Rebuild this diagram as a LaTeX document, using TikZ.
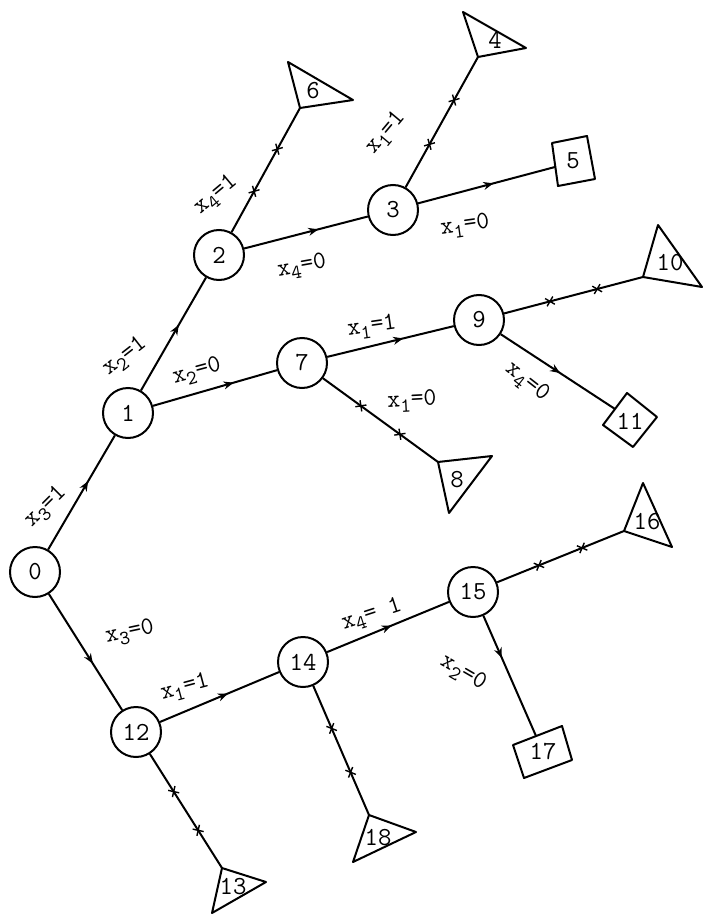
\documentclass[tikz,border=0pt]{standalone}
\usepackage{tikz}
\usetikzlibrary{arrows.meta, decorations.markings}

\newcommand{\xset}[2]{x\raisebox{-0.55ex}{\fontsize{10}{10}\selectfont#1}=#2}

\begin{document}
\begin{tikzpicture}[
    x=0.5pt, y=-0.5pt,
    every node/.style={font=\ttfamily\fontsize{13}{15}\selectfont},
    state/.style={circle, draw=black, fill=white, minimum size=25pt, inner sep=0pt, line width=1pt},
    leaf/.style={draw=black, line width=1pt, line join=round},
    lbl/.style={font=\ttfamily\fontsize{12.5}{14}\selectfont, inner sep=0.5pt},
    link/.style={line width=1pt, color=black},
    arrmid/.style={link, postaction={decorate}, decoration={markings,
        mark=at position #1 with {\arrow{Stealth[length=5pt, width=4pt]}}}},
    arrmid/.default=0.6,
    fathom/.style={link, postaction={decorate}, decoration={markings,
        mark=at position 0.33 with {\draw[line width=0.7pt] (-2pt,-2pt) -- (2pt,2pt) (-2pt,2pt) -- (2pt,-2pt);},
        mark=at position 0.67 with {\draw[line width=0.7pt] (-2pt,-2pt) -- (2pt,2pt) (-2pt,2pt) -- (2pt,-2pt);}}},
]
\useasboundingbox (0,0) rectangle (703,915);

% branching nodes
\node[state] (n0) at (35,572) {0};
\node[state] (n1) at (128,413) {1};
\node[state] (n2) at (219,255) {2};
\node[state] (n3) at (393,210) {3};
\node[state] (n7) at (302,363) {7};
\node[state] (n9) at (479,320) {9};
\node[state] (n12) at (136,732) {12};
\node[state] (n14) at (303,662) {14};
\node[state] (n15) at (473,592) {15};

% fathomed ends (triangles)
\coordinate (a4) at (478,57);
\draw[leaf] (a4) -- (463,12) -- (526,48) -- cycle;
\node (n4) at (495,40) {4};
\coordinate (a6) at (300,108);
\draw[leaf] (a6) -- (288,62) -- (353,100) -- cycle;
\node (n6) at (313,91) {6};
\coordinate (a8) at (438,462);
\draw[leaf] (a8) -- (492,456) -- (449,513) -- cycle;
\node (n8) at (457,480) {8};
\coordinate (a10) at (643,277);
\draw[leaf] (a10) -- (658,225) -- (702,287) -- cycle;
\node (n10) at (670,263) {10};
\coordinate (a13) at (222,868);
\draw[leaf] (a13) -- (266,882) -- (212,913) -- cycle;
\node (n13) at (233,887) {13};
\coordinate (a16) at (624,531);
\draw[leaf] (a16) -- (643,483) -- (672,547) -- cycle;
\node (n16) at (647,522) {16};
\coordinate (a18) at (369,815);
\draw[leaf] (a18) -- (416,832) -- (353,862) -- cycle;
\node (n18) at (378,838) {18};

% feasible ends (boxes)
\coordinate (a5) at (555,167);
\draw[leaf] (552,143) -- (587,136) -- (595,179) -- (558,186) -- cycle;
\node (n5) at (573,161) {5};
\coordinate (a11) at (615,409);
\draw[leaf] (627,393) -- (657,417) -- (633,447) -- (603,425) -- cycle;
\node (n11) at (630,421) {11};
\coordinate (a17) at (536,736);
\draw[leaf] (513,745) -- (562,726) -- (572,760) -- (524,778) -- cycle;
\node (n17) at (543,752) {17};

% branches
\draw[arrmid] (n0) -- (n1);
\draw[arrmid] (n0) -- (n12);
\draw[arrmid=0.58] (n1) -- (n2);
\draw[arrmid=0.65] (n1) -- (n7);
\draw[arrmid] (n2) -- (n3);
\draw[fathom] (n2) -- (a6);
\draw[fathom] (n3) -- (a4);
\draw[arrmid=0.55] (n3) -- (a5);
\draw[arrmid] (n7) -- (n9);
\draw[fathom] (n7) -- (a8);
\draw[fathom] (n9) -- (a10);
\draw[arrmid=0.52] (n9) -- (a11);
\draw[arrmid=0.57] (n12) -- (n14);
\draw[fathom] (n12) -- (a13);
\draw[arrmid=0.53] (n14) -- (n15);
\draw[fathom] (n14) -- (a18);
\draw[fathom] (n15) -- (a16);
\draw[arrmid=0.35] (n15) -- (a17);

% branch labels
\node[lbl, rotate=45] (l1) at (46,507) {\xset{3}{1}};
\node[lbl, rotate=12] (l12) at (130,633) {\xset{3}{0}};
\node[lbl, rotate=38] (l2) at (125,357) {\xset{2}{1}};
\node[lbl, rotate=15] (l7) at (197,372) {\xset{2}{0}};
\node[lbl, rotate=40] (l6) at (216,195) {\xset{4}{1}};
\node[lbl, rotate=10] (l3) at (302,267) {\xset{4}{0}};
\node[lbl, rotate=50] (l4) at (386,133) {\xset{1}{1}};
\node[lbl, rotate=8] (l5) at (465,226) {\xset{1}{0}};
\node[lbl, rotate=8] (l9) at (372,327) {\xset{1}{1}};
\node[lbl, rotate=3] (l8) at (412,401) {\xset{1}{0}};
\node[lbl, rotate=-38] (l11) at (527,382) {\xset{4}{0}};
\node[lbl, rotate=15] (l14) at (185,688) {\xset{1}{1}};
\node[lbl, rotate=18] (l15) at (372,615) {\xset{4}{ 1}};
\node[lbl, rotate=-30] (l17) at (463,673) {\xset{2}{0}};

\end{tikzpicture}
\end{document}
